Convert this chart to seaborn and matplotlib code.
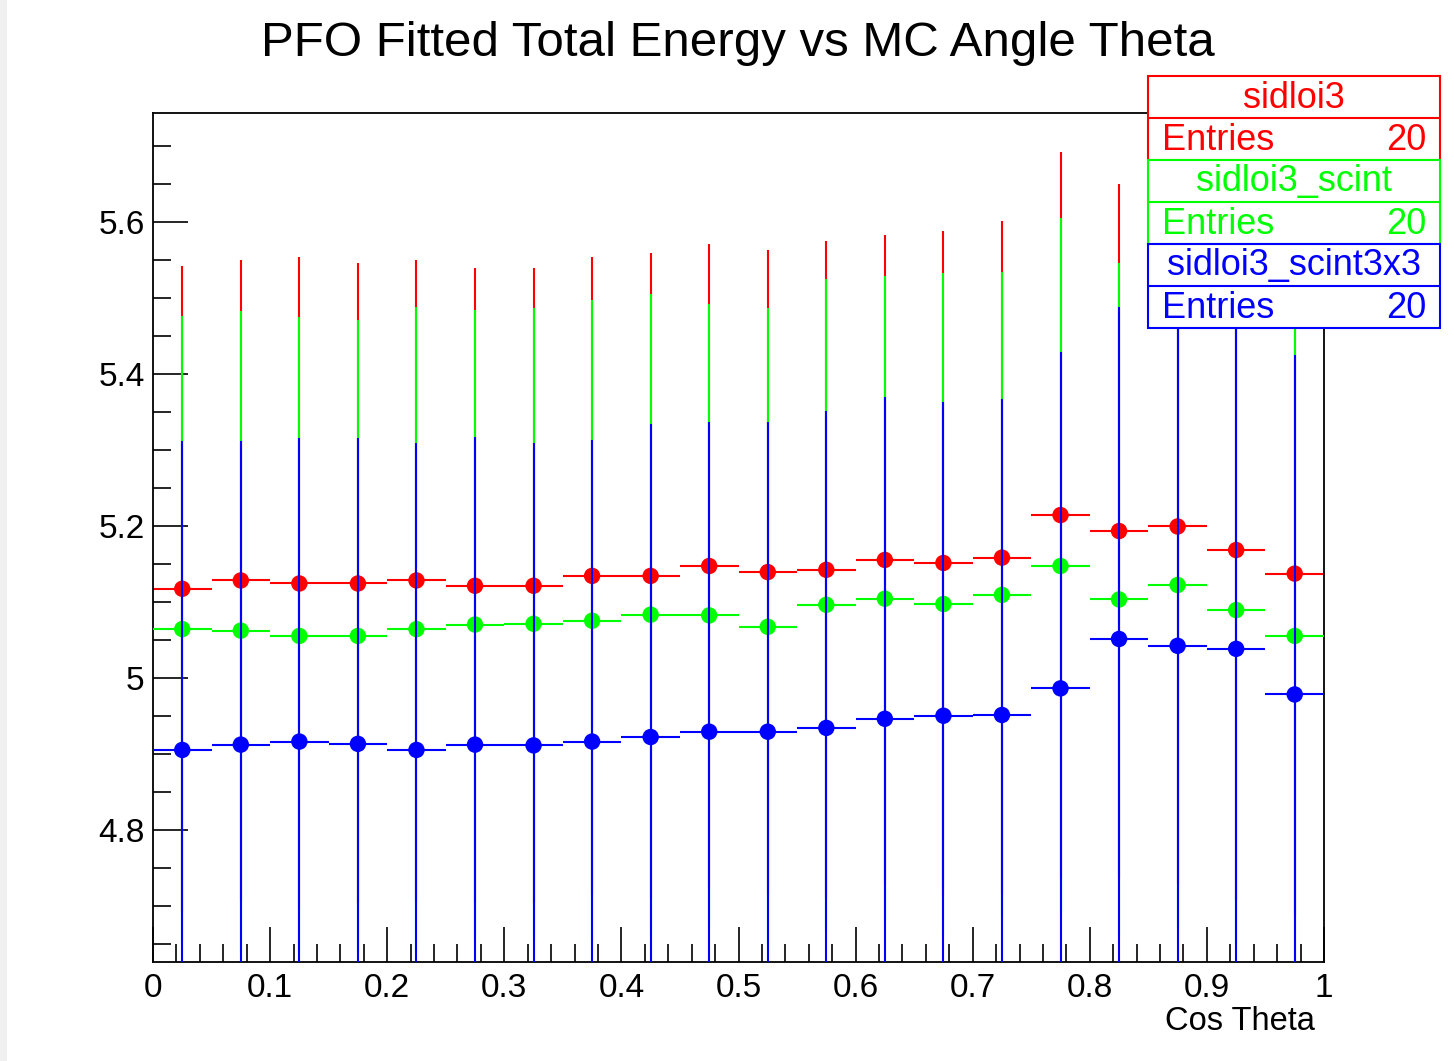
import numpy as np
import pandas as pd
import matplotlib
matplotlib.use("Agg")
import matplotlib.pyplot as plt
from matplotlib.patches import Rectangle
from matplotlib.ticker import MultipleLocator, FuncFormatter
import seaborn as sns

# ---------------- data ----------------
bin_centers = [0.025, 0.075, 0.125, 0.175, 0.225, 0.275, 0.325, 0.375, 0.425, 0.475,
               0.525, 0.575, 0.625, 0.675, 0.725, 0.775, 0.825, 0.875, 0.925, 0.975]
bin_halfwidth = 0.025

series_names = ["sidloi3", "sidloi3_scint", "sidloi3_scint3x3"]
series_colors = ["#ff0000", "#00ff00", "#0000ff"]
entries = [20, 20, 20]

sidloi3_mean = [5.117, 5.128, 5.124, 5.124, 5.128, 5.121, 5.121, 5.134, 5.134, 5.147,
                5.139, 5.142, 5.155, 5.151, 5.158, 5.214, 5.193, 5.199, 5.168, 5.137]
sidloi3_err = [0.425, 0.422, 0.430, 0.421, 0.421, 0.418, 0.418, 0.419, 0.425, 0.423,
               0.424, 0.432, 0.428, 0.437, 0.443, 0.478, 0.456, 0.470, 0.460, 0.450]

scint_mean = [5.064, 5.062, 5.055, 5.055, 5.064, 5.070, 5.071, 5.075, 5.083, 5.082,
              5.067, 5.096, 5.104, 5.097, 5.109, 5.147, 5.103, 5.122, 5.089, 5.055]
scint_err = [0.412, 0.421, 0.419, 0.416, 0.424, 0.414, 0.415, 0.422, 0.422, 0.410,
             0.420, 0.428, 0.424, 0.435, 0.425, 0.458, 0.443, 0.450, 0.440, 0.430]

scint3x3_mean = [4.905, 4.912, 4.916, 4.913, 4.905, 4.912, 4.911, 4.916, 4.922, 4.929,
                 4.929, 4.934, 4.946, 4.950, 4.951, 4.986, 5.051, 5.042, 5.038, 4.978]
scint3x3_err = [0.407, 0.400, 0.400, 0.403, 0.404, 0.405, 0.398, 0.397, 0.412, 0.408,
                0.407, 0.417, 0.424, 0.413, 0.416, 0.443, 0.437, 0.440, 0.430, 0.447]

title = "PFO Fitted Total Energy vs MC Angle Theta"
xlabel = "Cos Theta"
xlim = (0.0, 1.0)
ylim = (4.626, 5.743)

means = [sidloi3_mean, scint_mean, scint3x3_mean]
errs = [sidloi3_err, scint_err, scint3x3_err]

frames = []
for name, m, e in zip(series_names, means, errs):
    frames.append(pd.DataFrame({"x": bin_centers, "y": m, "err": e, "series": name}))
df = pd.concat(frames, ignore_index=True)

# ---------------- plot ----------------
sns.set_theme(style="ticks")
plt.rcParams["font.family"] = ["Liberation Sans", "DejaVu Sans"]
plt.rcParams["text.color"] = "black"
plt.rcParams["axes.labelcolor"] = "black"
plt.rcParams["xtick.color"] = "black"
plt.rcParams["ytick.color"] = "black"

W, H = 1454, 1061
fig = plt.figure(figsize=(W / 100, H / 100), dpi=100)
fig.patch.set_facecolor("white")
ax = fig.add_axes([153 / W, 1 - 962 / H, (1324 - 153) / W, (962 - 113) / H])

z = 2
for name, color in zip(series_names, series_colors):
    d = df[df["series"] == name]
    ax.errorbar(d["x"], d["y"], yerr=d["err"], xerr=bin_halfwidth, fmt="none",
                ecolor=color, elinewidth=1.5, capsize=0, zorder=z)
    sns.scatterplot(data=d, x="x", y="y", color=color, s=140, edgecolor="none",
                    marker="o", ax=ax, zorder=z + 1, legend=False)
    z += 2

ax.set_xlim(*xlim)
ax.set_ylim(*ylim)
ax.set_xlabel("")
ax.set_ylabel("")

ax.xaxis.set_major_locator(MultipleLocator(0.1))
ax.xaxis.set_minor_locator(MultipleLocator(0.02))
ax.yaxis.set_major_locator(MultipleLocator(0.2))
ax.yaxis.set_minor_locator(MultipleLocator(0.05))
ax.xaxis.set_major_formatter(FuncFormatter(lambda v, p: f"{v:g}"))
ax.yaxis.set_major_formatter(FuncFormatter(lambda v, p: f"{v:g}"))

ax.tick_params(axis="both", which="major", direction="in", length=25, width=1.2,
               color="black", labelcolor="black", labelsize=24, top=False, right=False)
ax.tick_params(axis="both", which="minor", direction="in", length=13, width=1.2,
               color="black", top=False, right=False)
ax.tick_params(axis="x", which="major", pad=8)
ax.tick_params(axis="y", which="major", pad=6)
for sp in ax.spines.values():
    sp.set_visible(True)
    sp.set_color("black")
    sp.set_linewidth(1.3)

fig.text(738 / W, 1 - 43 / H, title, ha="center", va="center", fontsize=35.5, color="black")
fig.text(1315 / W, 1 - 1022 / H, xlabel, ha="right", va="center", fontsize=23.5, color="black")

# stat boxes (ROOT-like)
bx0, bx1 = 1148, 1440
box_tops = [76, 160, 244]
row_h = 42
for top, name, color, n in zip(box_tops, series_names, series_colors, entries):
    rect = Rectangle((bx0 / W, 1 - (top + 2 * row_h) / H), (bx1 - bx0) / W, 2 * row_h / H,
                     transform=fig.transFigure, facecolor="white", edgecolor=color,
                     linewidth=1.5, zorder=10)
    fig.add_artist(rect)
    fig.add_artist(plt.Line2D([bx0 / W, bx1 / W], [1 - (top + row_h) / H] * 2,
                              transform=fig.transFigure, color=color, linewidth=1.5, zorder=11))
    fig.text((bx0 + bx1) / 2 / W, 1 - (top + row_h / 2 + 1) / H, name, color=color,
             ha="center", va="center", fontsize=26, zorder=12)
    fig.text(1162 / W, 1 - (top + row_h * 1.5 + 1) / H, "Entries", color=color,
             ha="left", va="center", fontsize=26, zorder=12)
    fig.text(1426 / W, 1 - (top + row_h * 1.5 + 1) / H, str(n), color=color,
             ha="right", va="center", fontsize=26, zorder=12)

# light grey screenshot edge
fig.add_artist(Rectangle((0, 0), 7 / W, 1, transform=fig.transFigure,
                         facecolor="#f0f0f0", edgecolor="none", zorder=0))

fig.savefig("out.png", dpi=100)
